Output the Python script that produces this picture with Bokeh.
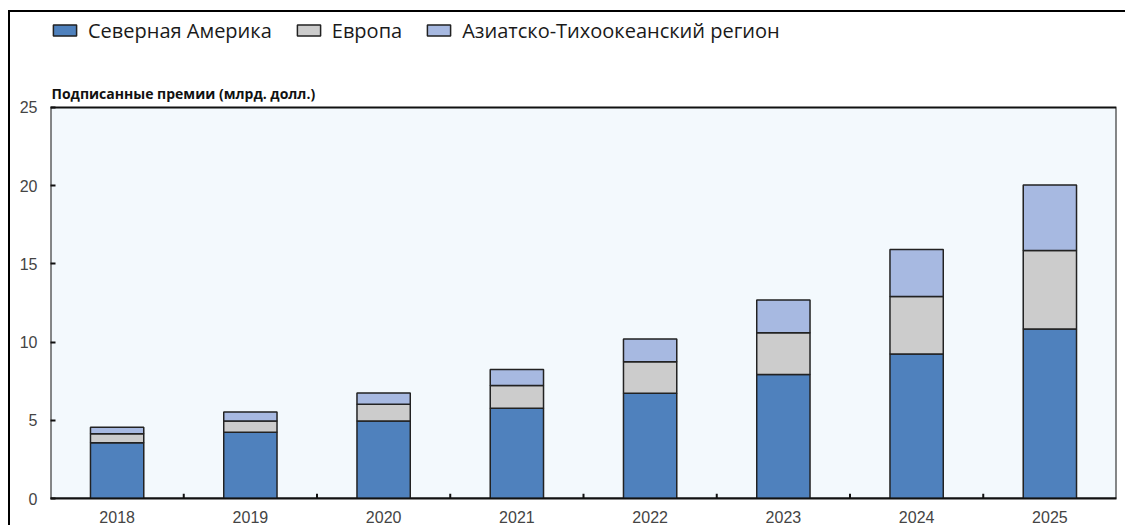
from bokeh.plotting import figure
from bokeh.models import Legend, LegendItem, Label, FixedTicker
from bokeh.embed import file_html
from bokeh.resources import INLINE

years = ["2018", "2019", "2020", "2021", "2022", "2023", "2024", "2025"]
north_america = [3.56, 4.23, 4.95, 5.77, 6.73, 7.92, 9.23, 10.83]
europe = [0.58, 0.72, 1.08, 1.45, 2.01, 2.68, 3.69, 5.02]
asia_pacific = [0.42, 0.58, 0.72, 1.03, 1.45, 2.09, 3.00, 4.19]
series_names = ["Северная Америка", "Европа", "Азиатско-Тихоокеанский регион"]
colors = ["#4F81BD", "#CCCCCC", "#A7B9E1"]
y_ticks = [0, 5, 10, 15, 20, 25]
y_title = "Подписанные премии (млрд. долл.)"

data = {"year": years, "na": north_america, "eu": europe, "ap": asia_pacific}

# frame spans from the canvas top; the chart box covers 0..25 within it
y_top = 31.07
p = figure(x_range=years, y_range=(0, y_top), width=1117, height=515,
           output_backend="svg", toolbar_location=None,
           min_border_top=0, min_border_left=40, min_border_right=11, min_border_bottom=29)
p.styles = {"border-top": "2px solid #000", "border-left": "2px solid #000",
            "margin-top": "10px", "margin-left": "8px"}

p.background_fill_color = "white"
p.border_fill_color = "white"
p.outline_line_color = None
p.xgrid.visible = False
p.ygrid.visible = False

# chart box (plot area) from 0 to the top tick
p.quad(left=[(years[0], -0.5)], right=[(years[-1], 0.5)], bottom=[y_ticks[0]], top=[y_ticks[-1]],
       fill_color="#F3F9FD", line_color="#111111", line_width=2)

rs = p.vbar_stack(["na", "eu", "ap"], x="year", width=0.4, source=data,
                  fill_color=colors, line_color="#222222", line_width=1.5)

# boundary ticks between categories
bx = [(y, -0.5) for y in years[1:]]
p.segment(x0=bx, x1=bx, y0=[0] * len(bx), y1=[0.3] * len(bx), line_color="#111111", line_width=2)

p.yaxis.ticker = FixedTicker(ticks=y_ticks)
p.yaxis.minor_tick_line_color = None
p.yaxis.axis_line_color = None
p.yaxis.major_tick_in = 5
p.yaxis.major_tick_out = 0
p.yaxis.major_label_standoff = 13
p.xaxis.major_label_standoff = 6
p.xaxis.axis_line_color = "#111111"
p.xaxis.axis_line_width = 2
for ax in (p.xaxis, p.yaxis):
    ax.major_tick_line_color = "#111111"
    ax.major_tick_line_width = 2
    ax.major_label_text_font = "Liberation Sans"
    ax.major_label_text_font_size = "16px"
    ax.major_label_text_color = "#444444"
p.xaxis.major_tick_line_color = None

legend = Legend(items=[LegendItem(label=n, renderers=[r]) for n, r in zip(series_names, rs)],
                orientation="horizontal", location="top_left",
                glyph_width=29, glyph_height=14, spacing=22, label_standoff=9,
                label_height=36, padding=0, margin=0,
                border_line_color=None, background_fill_alpha=0,
                label_text_font="Open Sans", label_text_font_size="20px",
                label_text_color="#1a1a1a")
p.add_layout(legend, "center")

# x=0 is the left edge of the first category in the factor range's synthetic coordinates
lab = Label(x=0, y=25.86, x_offset=1, text=y_title,
            text_font="Open Sans", text_font_style="bold", text_font_size="14px",
            text_color="#111111", text_baseline="middle")
p.add_layout(lab)

open("out.html", "w").write(file_html(p, INLINE))
